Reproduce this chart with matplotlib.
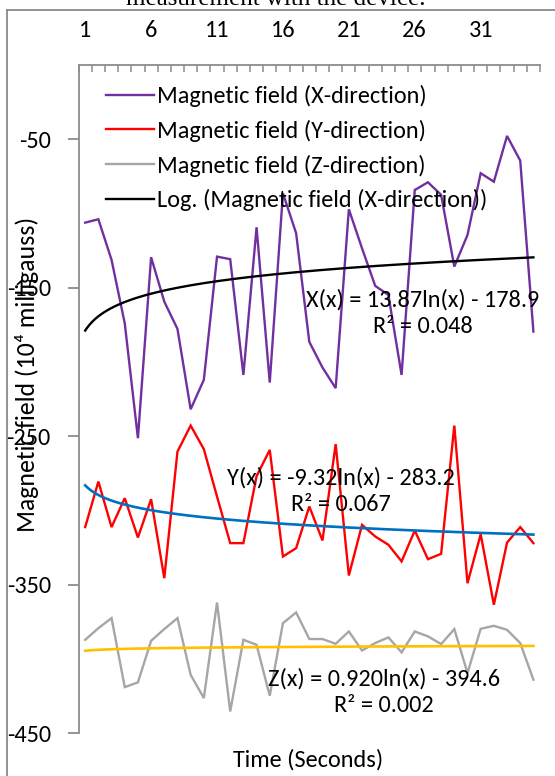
import numpy as np
import matplotlib
matplotlib.use("Agg")
import matplotlib.pyplot as plt
from matplotlib.ticker import FixedLocator, NullFormatter
import matplotlib.lines as mlines

plt.rcParams['font.family'] = ['Carlito', 'Lato', 'DejaVu Sans']
plt.rcParams['axes.unicode_minus'] = False

# ---------------- data ----------------
time_s = list(range(1, 36))
mag_x = [-106.2, -103.9, -131.3, -174.0, -251.4, -129.5, -159.4, -177.8, -231.9, -212.1,
         -129.1, -130.8, -208.8, -109.3, -213.9, -86.4, -113.3, -186.5, -203.8, -217.7,
         -97.2, -123.5, -148.8, -154.9, -208.8, -84.2, -79.0, -87.5, -135.8, -114.5,
         -72.9, -78.6, -47.8, -64.4, -179.6]
mag_y = [-311.3, -280.6, -311.3, -291.8, -318.3, -292.5, -345.7, -260.4, -242.9, -258.8,
         -290.7, -322.1, -322.1, -277.0, -259.3, -331.1, -325.5, -297.4, -320.3, -255.4,
         -343.9, -309.8, -317.6, -323.2, -334.4, -313.6, -332.9, -329.3, -242.9, -349.1,
         -316.1, -363.6, -321.7, -311.3, -322.1]
mag_z = [-387.2, -379.4, -372.6, -419.1, -415.9, -387.9, -380.0, -372.6, -410.8, -426.5,
         -362.1, -435.5, -387.2, -390.6, -424.9, -376.0, -368.8, -386.7, -386.7, -389.9,
         -381.6, -394.4, -389.4, -385.6, -395.7, -381.6, -384.9, -390.1, -380.0, -409.6,
         -379.8, -377.8, -380.5, -389.4, -414.1]
# logarithmic trendline coefficients (a*ln(x) + b)
trend_x = (13.87, -178.9)
trend_y = (-9.32, -283.2)
trend_z = (0.920, -394.6)
labels = ['Magnetic field (X-direction)', 'Magnetic field (Y-direction)',
          'Magnetic field (Z-direction)', 'Log. (Magnetic field (X-direction))']
eq_texts = ['X(x) = 13.87ln(x) - 178.9\nR² = 0.048',
            'Y(x) = -9.32ln(x) - 283.2\nR² = 0.067',
            'Z(x) = 0.920ln(x) - 394.6\nR² = 0.002']
ytick_vals = [-450, -350, -250, -150, -50]
xtick_vals = [1, 6, 11, 16, 21, 26, 31]

W, H = 555, 776
fig = plt.figure(figsize=(W / 100, H / 100), dpi=100)

def fx(px):
    return px / W

def fy(py):
    return 1 - py / H

FS = 17.5
L, R, T, B = 78.6, 540.0, 65.0, 733.0
ax = fig.add_axes([fx(L), fy(B), (R - L) / W, (B - T) / H])

purple = '#7030A0'
red = '#FF0000'
gray = '#A6A6A6'
lw = 1.7

x = np.array(time_s)
ax.plot(x, mag_x, color=purple, lw=lw, solid_joinstyle='miter', zorder=2)
ax.plot(x, mag_y, color=red, lw=lw, solid_joinstyle='miter', zorder=2)
ax.plot(x, mag_z, color=gray, lw=lw, solid_joinstyle='miter', zorder=2)

xt = np.linspace(1, 35, 300)
ax.plot(xt, trend_x[0] * np.log(xt) + trend_x[1], color='black', lw=1.7, zorder=3)
ax.plot(xt, trend_y[0] * np.log(xt) + trend_y[1], color='#0070C0', lw=1.9, zorder=3)
ax.plot(xt, trend_z[0] * np.log(xt) + trend_z[1], color='#FFC000', lw=1.9, zorder=3)

ax.set_xlim(0.5, 35.5)
ax.set_ylim(-450, 0)

spine_c = '#8C8C8C'
for s in ['right', 'bottom']:
    ax.spines[s].set_visible(False)
for s in ['top', 'left']:
    ax.spines[s].set_color(spine_c)
    ax.spines[s].set_linewidth(1.3)

ax.xaxis.tick_top()
ax.xaxis.set_major_locator(FixedLocator(xtick_vals))
ax.xaxis.set_minor_locator(FixedLocator(np.arange(0.5, 36, 1.0)))
ax.xaxis.set_minor_formatter(NullFormatter())
ax.tick_params(axis='x', which='major', length=0, pad=17, labelsize=FS)
ax.tick_params(axis='x', which='minor', direction='in', length=5, width=1.1, color=spine_c)

ax.set_yticks(ytick_vals)
ax.tick_params(axis='y', which='major', direction='out', length=8, width=1.3,
               color=spine_c, pad=12, labelsize=FS)

# legend
handles = [mlines.Line2D([], [], color=c, lw=lw) for c in [purple, red, gray, 'black']]
ax.legend(handles, labels, loc='upper left', bbox_to_anchor=(0.06, 0.970),
          frameon=False, fontsize=FS, handlelength=1.98, handletextpad=0.12,
          labelspacing=0.52, borderpad=0, borderaxespad=0)

# trendline equations
eq_pos = [(423, 313), (341, 491), (384, 692)]
for (px, py), t in zip(eq_pos, eq_texts):
    fig.text(fx(px), fy(py), t, ha='center', va='center', fontsize=FS,
             linespacing=1.3, zorder=5)

# axis titles
fig.text(fx(27), fy(374), 'Magnetic field (10⁴ milligauss)', rotation=90,
         ha='center', va='center', fontsize=18.5)
fig.text(fx(308), fy(760), 'Time (Seconds)', ha='center', va='center', fontsize=FS)

# outer chart frame and cropped caption
frame_c = '#8A8A8A'
fig.add_artist(mlines.Line2D([fx(7), fx(7)], [fy(10), 0], color=frame_c, lw=1.3,
                             transform=fig.transFigure))
fig.add_artist(mlines.Line2D([fx(7), 1], [fy(10), fy(10)], color=frame_c, lw=1.3,
                             transform=fig.transFigure))
fig.text(fx(276), fy(5), 'measurement with the device.', ha='center', va='baseline',
         fontsize=18, family=['Liberation Serif', 'DejaVu Serif'])

fig.savefig('out.png', dpi=100)
